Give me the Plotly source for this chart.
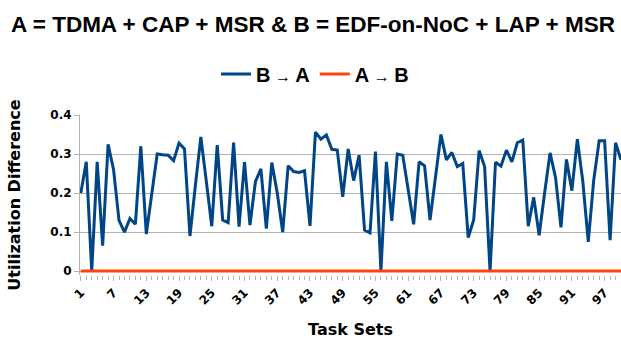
import plotly.graph_objects as go

task_sets = list(range(1, 101))
b_to_a = [
    0.20, 0.28, 0.0, 0.28, 0.065, 0.325, 0.26, 0.13, 0.10, 0.135,
    0.12, 0.32, 0.095, 0.20, 0.30, 0.298, 0.297, 0.283, 0.328, 0.313,
    0.09, 0.22, 0.344, 0.23, 0.115, 0.323, 0.131, 0.124, 0.329, 0.114,
    0.279, 0.118, 0.229, 0.262, 0.109, 0.278, 0.20, 0.10, 0.27, 0.255,
    0.253, 0.257, 0.116, 0.356, 0.338, 0.349, 0.312, 0.31, 0.19, 0.313,
    0.232, 0.297, 0.105, 0.098, 0.306, 0.0, 0.28, 0.129, 0.30, 0.297,
    0.21, 0.12, 0.28, 0.27, 0.131, 0.24, 0.35, 0.285, 0.304, 0.268,
    0.276, 0.086, 0.131, 0.309, 0.268, 0.0, 0.279, 0.269, 0.31, 0.28,
    0.329, 0.336, 0.115, 0.189, 0.092, 0.20, 0.303, 0.24, 0.112, 0.286,
    0.206, 0.338, 0.23, 0.075, 0.233, 0.334, 0.334, 0.079, 0.329, 0.285,
]
a_to_b = [0.0] * 100
x_tick_vals = list(range(1, 101, 6))
y_tick_vals = [0, 0.1, 0.2, 0.3, 0.4]
y_tick_text = ["0", "0.1", "0.2", "0.3", "0.4"]

arrow = "<span style='font-size:16px'> → </span>"

fig = go.Figure()
fig.add_trace(go.Scatter(
    x=task_sets, y=b_to_a, mode="lines", name="B" + arrow + "A",
    line=dict(color="#004586", width=3),
))
fig.add_trace(go.Scatter(
    x=task_sets, y=a_to_b, mode="lines", name="A" + arrow + "B",
    line=dict(color="#ff420e", width=3),
))

axis_font = dict(family="DejaVu Sans", size=12, color="#000000", weight="bold")

fig.update_layout(
    width=621, height=339,
    margin=dict(l=80, r=0, t=115, b=64),
    paper_bgcolor="white", plot_bgcolor="white",
    title=dict(
        text="A = TDMA + CAP + MSR & B = EDF-on-NoC + LAP + MSR",
        x=313 / 621, xref="container", xanchor="center",
        y=1 - 24 / 339, yref="container", yanchor="middle",
        font=dict(family="Liberation Sans", size=22.5, color="#000000", weight="bold"),
    ),
    legend=dict(
        orientation="h", x=315 / 621, xref="container", xanchor="center",
        y=1 - 74 / 339, yref="container", yanchor="middle",
        font=dict(family="Liberation Sans", size=20, color="#000000", weight="bold"),
        itemwidth=30, bgcolor="rgba(0,0,0,0)",
    ),
    showlegend=True,
    xaxis=dict(
        range=[0.85, 100.0], automargin=False,
        tickmode="array", tickvals=x_tick_vals,
        tickangle=-45, tickfont=axis_font,
        ticks="outside", ticklen=5, tickcolor="#b3b3b3",
        minor=dict(dtick=1, tick0=1, ticks="outside", ticklen=4, tickcolor="#b3b3b3", showgrid=False),
        showgrid=False, zeroline=False, showline=False,
        title=dict(text="Task Sets", font=dict(family="DejaVu Sans", size=16, color="#000000", weight="bold"), standoff=18),
    ),
    yaxis=dict(
        range=[-0.01, 0.4], automargin=False,
        tickmode="array", tickvals=y_tick_vals, ticktext=y_tick_text,
        tickfont=axis_font,
        ticks="outside", ticklen=5, tickcolor="#b3b3b3",
        showgrid=True, gridcolor="#b3b3b3", gridwidth=1,
        zeroline=False, showline=True, linecolor="#b3b3b3", linewidth=1,
        title=dict(text="Utilization Difference", font=dict(family="DejaVu Sans", size=16, color="#000000", weight="bold"), standoff=25),
    ),
)

fig.write_html(
    "out.html",
    config={"displayModeBar": False},
    post_script="document.body.style.margin='0';",
)
